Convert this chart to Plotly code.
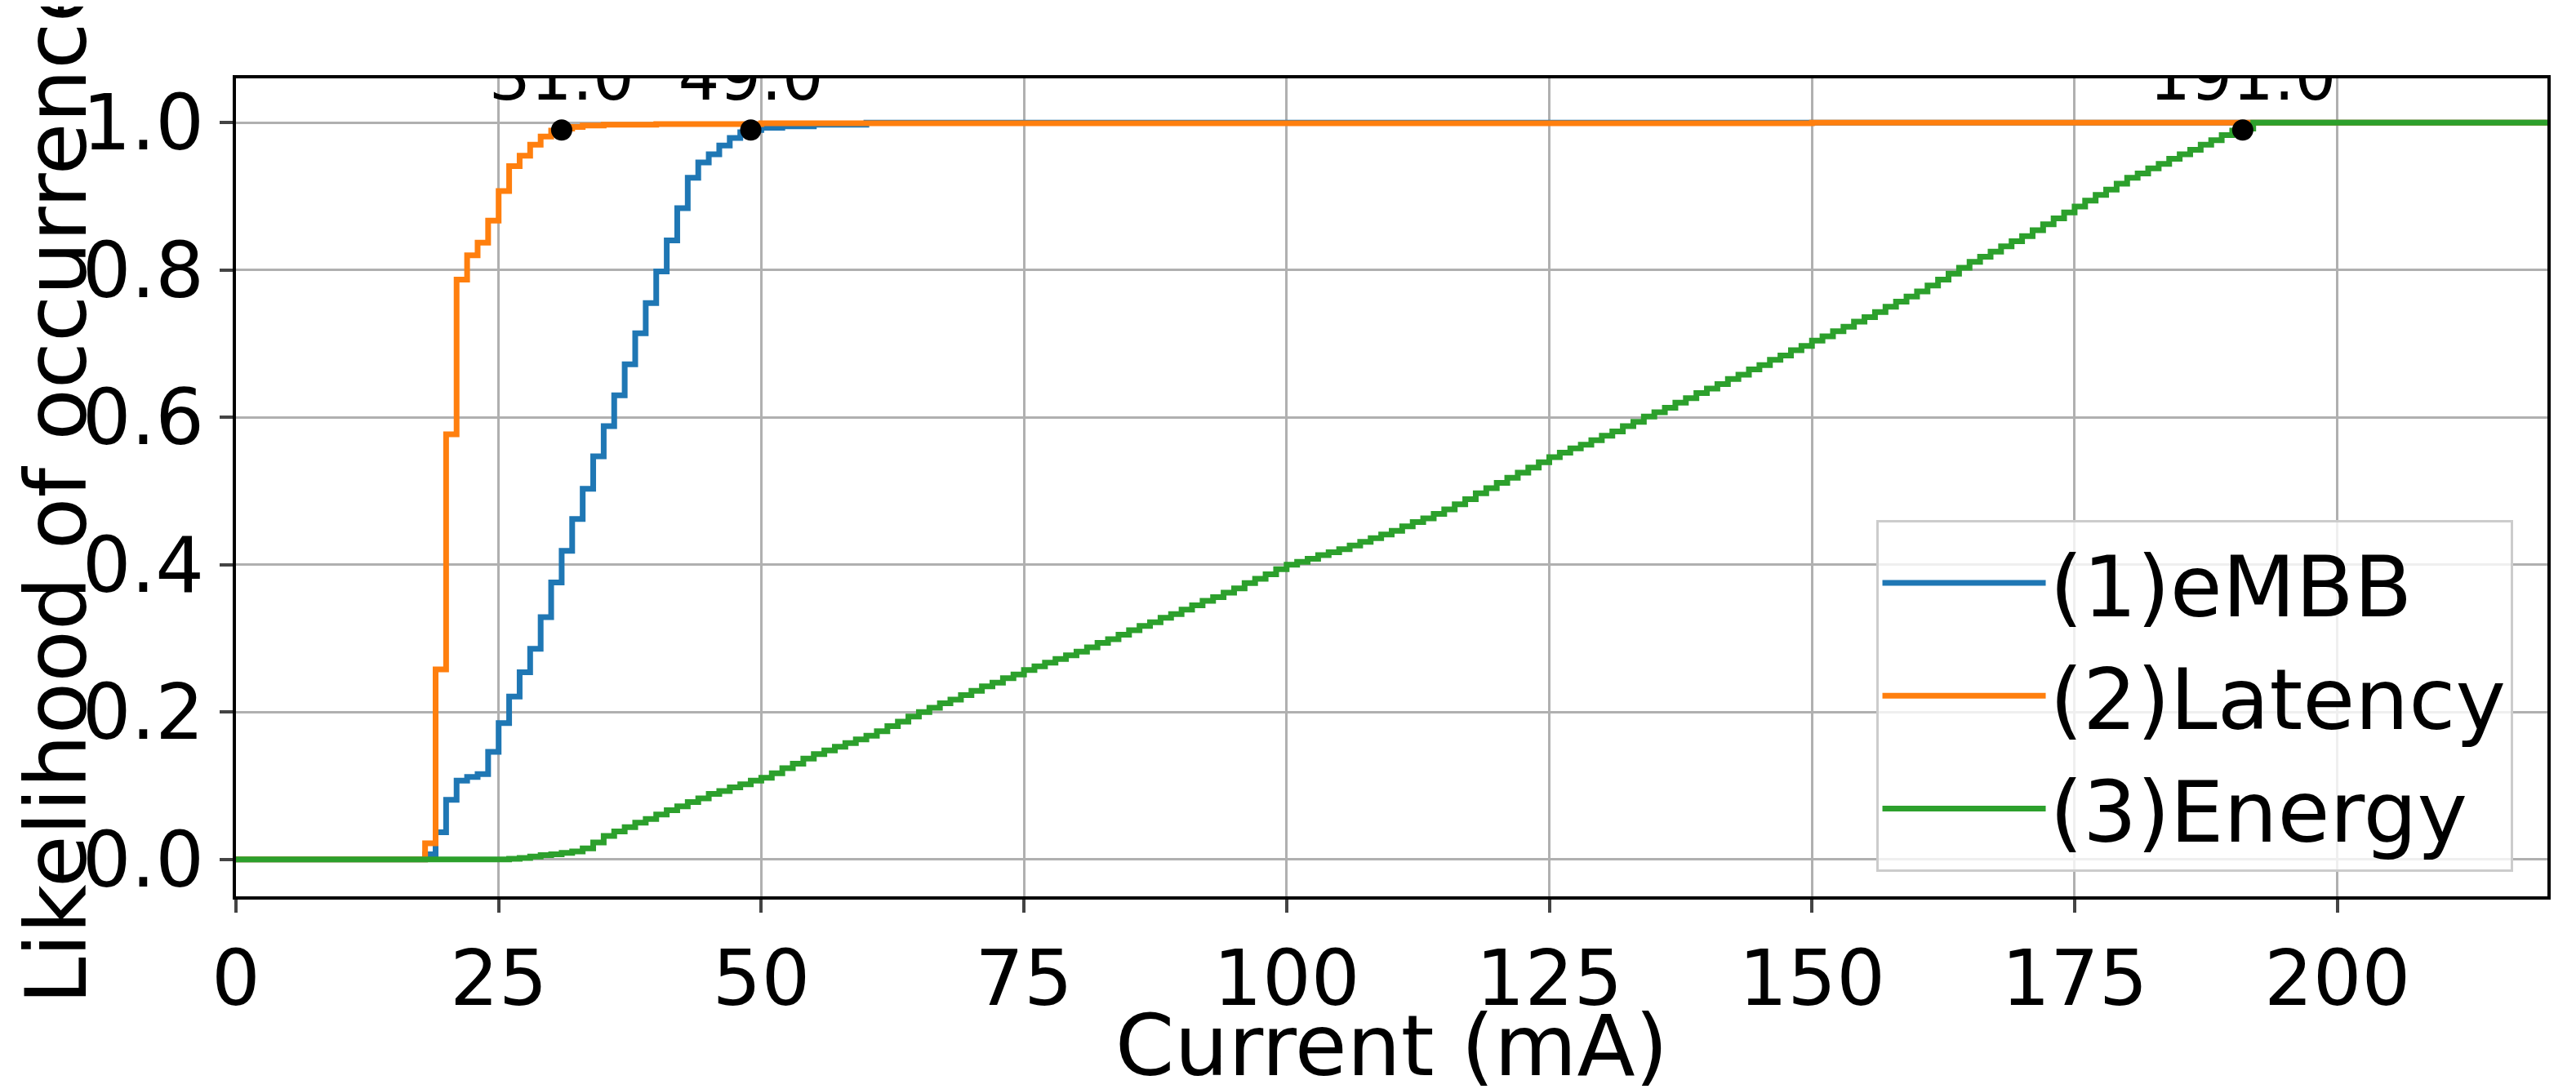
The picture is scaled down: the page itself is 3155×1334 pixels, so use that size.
import plotly.graph_objects as go

# CDF data (current in mA, cumulative likelihood)
embb_x = [0, 18, 19, 20, 21, 22, 23, 24, 25, 26, 27, 28, 29, 30, 31, 32, 33, 34, 35, 36, 37,
          38, 39, 40, 41, 42, 43, 44, 45, 46, 47, 48, 49, 50, 52, 55, 60, 220]
embb_y = [0, 0.007, 0.037, 0.081, 0.107, 0.112, 0.116, 0.146, 0.185, 0.221, 0.254, 0.286,
          0.329, 0.376, 0.419, 0.462, 0.503, 0.547, 0.588, 0.630, 0.672, 0.714, 0.755, 0.798,
          0.840, 0.884, 0.925, 0.946, 0.957, 0.969, 0.979, 0.987, 0.990, 0.993, 0.995, 0.997,
          1.0, 1.0]

lat_x = [0, 18, 19, 20, 21, 22, 23, 24, 25, 26, 27, 28, 29, 30, 31, 32, 33, 35, 40, 50, 150, 220]
lat_y = [0, 0.022, 0.258, 0.577, 0.787, 0.820, 0.837, 0.867, 0.907, 0.941, 0.955, 0.970,
         0.981, 0.989, 0.992, 0.994, 0.996, 0.997, 0.998, 0.999, 1.0, 1.0]

energy_x = [0] + list(range(25, 193)) + [220]
energy_y = [0,
    0.000, 0.001, 0.002, 0.004, 0.006, 0.007, 0.009,
    0.011, 0.015, 0.023, 0.032, 0.038, 0.044, 0.050, 0.055, 0.061,
    0.067, 0.072, 0.078, 0.083, 0.089,
    0.093, 0.098, 0.102, 0.107, 0.111,
    0.117, 0.124, 0.130, 0.137, 0.143,
    0.148, 0.153, 0.158, 0.163, 0.168,
    0.174, 0.181, 0.187, 0.194, 0.200,
    0.206, 0.212, 0.217, 0.223, 0.229,
    0.235, 0.240, 0.246, 0.251, 0.257,
    0.262, 0.267, 0.272, 0.277, 0.282,
    0.288, 0.294, 0.299, 0.305, 0.311,
    0.317, 0.322, 0.328, 0.333, 0.339,
    0.345, 0.351, 0.356, 0.362, 0.368,
    0.375, 0.381, 0.387, 0.394, 0.400,
    0.404, 0.408, 0.413, 0.417, 0.421,
    0.426, 0.431, 0.436, 0.441, 0.446,
    0.452, 0.458, 0.463, 0.469, 0.475,
    0.482, 0.489, 0.497, 0.504, 0.511,
    0.518, 0.525, 0.532, 0.539, 0.546,
    0.552, 0.558, 0.563, 0.569, 0.575,
    0.581, 0.588, 0.594, 0.601, 0.607,
    0.613, 0.620, 0.626, 0.633, 0.639,
    0.645, 0.652, 0.658, 0.665, 0.671,
    0.678, 0.684, 0.691, 0.697, 0.704,
    0.710, 0.717, 0.723, 0.730, 0.736,
    0.743, 0.750, 0.757, 0.764, 0.771,
    0.779, 0.787, 0.795, 0.803, 0.811,
    0.818, 0.825, 0.832, 0.839, 0.846,
    0.854, 0.862, 0.870, 0.878, 0.886,
    0.894, 0.902, 0.909, 0.917, 0.925,
    0.931, 0.938, 0.944, 0.951, 0.957,
    0.963, 0.970, 0.976, 0.983, 0.989,
    0.992, 1.0, 1.0]

# 99th percentile markers
p99_x = [31.0, 49.0, 191.0]
p99_y = [0.99, 0.99, 0.99]

fig = go.Figure()
for name, xs, ys, color in [("(1)eMBB", embb_x, embb_y, "#1f77b4"),
                            ("(2)Latency", lat_x, lat_y, "#ff7f0e"),
                            ("(3)Energy", energy_x, energy_y, "#2ca02c")]:
    fig.add_trace(go.Scatter(x=xs, y=ys, mode="lines", name=name,
                             line=dict(color=color, width=7, shape="hv")))

fig.add_trace(go.Scatter(x=p99_x, y=p99_y, mode="markers+text", showlegend=False,
                         marker=dict(color="black", size=26),
                         text=[f"{v:.1f}" for v in p99_x], textposition="top center",
                         textfont=dict(size=80, color="black")))

axis_common = dict(showgrid=True, gridcolor="#b0b0b0", gridwidth=3, showline=True,
                   linecolor="black", linewidth=4, mirror=True, ticks="outside",
                   ticklen=16, tickwidth=4, tickfont=dict(size=94, color="black"),
                   zeroline=False)

fig.update_layout(
    width=3155, height=1334,
    plot_bgcolor="white", paper_bgcolor="white",
    font=dict(family="DejaVu Sans", color="black"),
    margin=dict(l=271, r=43, t=88, b=184),
    xaxis=dict(range=[0, 220], tickvals=[0, 25, 50, 75, 100, 125, 150, 175, 200],
               title=dict(text="Current (mA)", font=dict(size=104), standoff=4), **axis_common),
    yaxis=dict(range=[-0.05, 1.06], tickvals=[0, 0.2, 0.4, 0.6, 0.8, 1.0], tickformat=".1f",
               title=dict(text="Likelihood of occurrence", font=dict(size=104), standoff=8),
               **axis_common),
    legend=dict(x=0.985, y=0.03, xanchor="right", yanchor="bottom",
                font=dict(size=104), bgcolor="rgba(255,255,255,0.8)",
                bordercolor="#cccccc", borderwidth=3, itemwidth=200),
)

fig.write_html("out.html")
